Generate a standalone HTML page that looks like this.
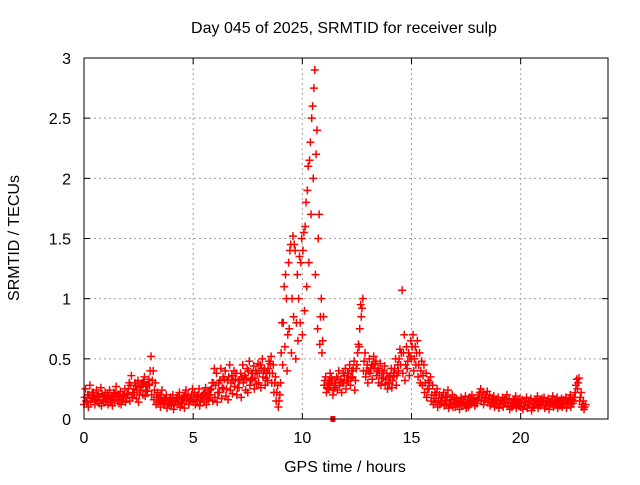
<!DOCTYPE html>
<html><head><meta charset="utf-8"><style>
body{margin:0;background:#fff}
svg{font-family:"Liberation Sans",sans-serif;font-size:16px}
</style></head><body>
<svg id="chart" width="640" height="480" viewBox="0 0 640 480" xmlns="http://www.w3.org/2000/svg">
<rect width="640" height="480" fill="#fff"/>
<text x="344" y="33" text-anchor="middle">Day 045 of 2025, SRMTID for receiver sulp</text>
<text x="345" y="472" text-anchor="middle">GPS time / hours</text>
<text transform="translate(19,238) rotate(-90)" text-anchor="middle">SRMTID / TECUs</text>
<g id="grid"></g><g id="ticks"></g><g id="marks"></g>
<rect x="84" y="58" width="524" height="361" fill="none" stroke="#000" stroke-width="1"/>
</svg>
<script>
const xTicks=[0,5,10,15,20];
const yTicks=[0,0.5,1,1.5,2,2.5,3];
const yTickLabels=["0","0.5","1","1.5","2","2.5","3"];
const tStart=0, tStep=0.1;
const seriesLow=[
.12,.15,.10,.14,.18,.12,.16,.13,.11,.15,
.14,.12,.16,.11,.15,.18,.13,.12,.17,.14,
.20,.15,.18,.22,.17,.14,.24,.20,.19,.23,
.28,.20,.16,.12,.14,.10,.15,.12,.09,.13,
.11,.08,.14,.12,.10,.13,.09,.15,.12,.16,
.14,.12,.15,.11,.18,.14,.12,.16,.20,.15,
.18,.14,.22,.17,.25,.19,.16,.24,.21,.27,
.20,.26,.18,.30,.24,.22,.28,.33,.25,.29,
.30,.26,.35,.28,.32,.38,.30,.22,.15,.10,
.30,.45,.60,.40,.75,.55,.85,.50,.65,.80,
.70,.90,1.10,1.30,1.70,2.00,1.20,.75,.62,.55,
.28,.22,.25,.30,.20,.26,.24,.28,.22,.30,
.25,.32,.28,.35,.24,.45,.60,.85,.40,.35,
.30,.38,.33,.42,.36,.30,.28,.34,.29,.25,
.30,.26,.35,.28,.40,.45,.38,.32,.42,.36,
.50,.40,.45,.35,.30,.28,.22,.18,.25,.15,
.12,.14,.10,.12,.15,.11,.13,.09,.12,.10,
.10,.12,.08,.11,.13,.09,.10,.12,.14,.11,
.13,.18,.15,.12,.17,.14,.11,.13,.10,.12,
.09,.12,.10,.14,.11,.08,.10,.13,.09,.11,
.10,.08,.11,.09,.12,.07,.10,.13,.09,.11,
.12,.09,.11,.08,.13,.10,.12,.09,.11,.10,
.12,.09,.14,.10,.13,.22,.25,.15,.10,.08];
const seriesMid=[
.18,.14,.20,.17,.22,.15,.19,.16,.21,.18,
.17,.19,.14,.18,.21,.16,.19,.15,.20,.17,
.25,.28,.22,.30,.24,.20,.27,.31,.24,.29,
.40,.32,.24,.18,.16,.20,.13,.17,.12,.16,
.15,.12,.17,.18,.14,.16,.20,.18,.15,.20,
.18,.16,.20,.15,.19,.22,.17,.20,.25,.30,
.28,.22,.32,.26,.33,.25,.35,.30,.32,.33,
.26,.32,.35,.33,.34,.40,.32,.38,.34,.38,
.38,.42,.40,.34,.42,.46,.38,.30,.22,.15,
.55,.80,1.20,.70,1.40,1.00,1.45,.80,1.00,1.30,
1.40,1.60,1.90,2.15,2.50,2.75,2.20,1.50,.85,.65,
.32,.26,.30,.34,.24,.30,.33,.30,.30,.36,
.32,.38,.34,.42,.32,.55,.75,.92,.48,.40,
.40,.42,.45,.46,.40,.38,.34,.38,.33,.30,
.36,.32,.42,.36,.50,.55,.55,.45,.48,.52,
.60,.50,.55,.45,.40,.36,.30,.25,.30,.20,
.17,.20,.15,.15,.18,.15,.18,.12,.16,.14,
.14,.13,.13,.14,.16,.12,.14,.16,.15,.13,
.16,.22,.18,.15,.20,.17,.14,.16,.13,.15,
.12,.15,.13,.17,.14,.11,.13,.16,.12,.14,
.13,.11,.14,.12,.15,.10,.13,.16,.12,.14,
.15,.12,.14,.11,.16,.13,.15,.12,.14,.13,
.15,.12,.17,.13,.15,.28,.30,.18,.12,.10];
const seriesHigh=[
.25,.20,.28,.22,.18,.24,.20,.26,.19,.22,
.20,.24,.18,.22,.27,.20,.23,.19,.25,.21,
.30,.36,.25,.28,.32,.26,.30,.35,.28,.33,
.52,.40,.30,.22,.18,.24,.16,.20,.15,.18,
.20,.15,.18,.22,.16,.19,.24,.20,.18,.25,
.22,.19,.25,.18,.21,.26,.20,.24,.30,.42,
.38,.30,.42,.35,.40,.32,.45,.36,.40,.38,
.32,.38,.45,.36,.42,.48,.38,.44,.40,.46,
.45,.50,.42,.38,.48,.52,.45,.35,.28,.20,
.80,1.10,1.00,1.30,1.45,1.52,1.40,1.20,1.35,1.50,
1.55,1.80,2.10,2.30,2.60,2.90,2.40,1.70,1.00,.85,
.35,.30,.38,.32,.28,.35,.40,.33,.38,.42,
.38,.45,.40,.48,.42,.62,.95,1.00,.55,.45,
.50,.45,.52,.48,.42,.46,.40,.44,.38,.35,
.42,.38,.50,.45,.58,1.07,.70,.60,.55,.65,
.70,.60,.65,.55,.48,.45,.38,.32,.35,.28,
.22,.25,.20,.18,.22,.19,.24,.16,.20,.18,
.17,.15,.18,.16,.19,.14,.18,.20,.17,.15,
.20,.25,.22,.18,.23,.20,.17,.19,.16,.18,
.15,.18,.16,.20,.17,.14,.16,.19,.15,.17,
.16,.14,.18,.15,.17,.13,.16,.19,.15,.17,
.18,.15,.17,.14,.19,.16,.18,.15,.17,.16,
.18,.15,.20,.16,.18,.33,.34,.22,.15,.12];
const extraTimes=[11.4];
const extraValues=[0];

const X0=84,X1=608,Y0=419,Y1=58;
function xs(t){return X0+(t/24)*(X1-X0);}
function ys(v){return Y0-(v/3)*(Y0-Y1);}
const NS="http://www.w3.org/2000/svg";
const grid=document.getElementById('grid'),ticks=document.getElementById('ticks'),marks=document.getElementById('marks');
function mk(tag,attrs,parent){const e=document.createElementNS(NS,tag);for(const k in attrs)e.setAttribute(k,attrs[k]);parent.appendChild(e);return e;}
xTicks.forEach(t=>{
  const x=xs(t);
  if(t>0){const g=mk('line',{x1:x,x2:x,y1:Y1,y2:Y0,stroke:'#a0a0a0','stroke-dasharray':'2,3'},grid);
  
  }
  mk('line',{x1:x,x2:x,y1:Y0,y2:Y0-6,stroke:'#000'},ticks);
  mk('line',{x1:x,x2:x,y1:Y1,y2:Y1+6,stroke:'#000'},ticks);
  const l=mk('text',{x:x,y:Y0+24,'text-anchor':'middle'},ticks);l.textContent=t;
  
  
});
yTicks.forEach((v,i)=>{
  const y=ys(v);
  if(v>0&&v<3){const g=mk('line',{x1:X0,x2:X1,y1:y,y2:y,stroke:'#a0a0a0','stroke-dasharray':'2,3'},grid);
  
  }
  mk('line',{x1:X0,x2:X0+6,y1:y,y2:y,stroke:'#000'},ticks);
  mk('line',{x1:X1,x2:X1-6,y1:y,y2:y,stroke:'#000'},ticks);
  const l=mk('text',{x:X0-13,y:y+6,'text-anchor':'end'},ticks);l.textContent=yTickLabels[i];
  
  
});
function plus(t,v){
  const x=xs(t),y=ys(v);
  const p=mk('path',{d:`M${x-4},${y}h8M${x},${y-4}v8`,stroke:'#f00','stroke-width':1.5,fill:'none'},marks);
  
  
}
seriesLow.forEach((v,i)=>plus(tStart+i*tStep,v));
seriesMid.forEach((v,i)=>plus(tStart+i*tStep+0.03,v));
seriesHigh.forEach((v,i)=>plus(tStart+i*tStep+0.07,v));
extraTimes.forEach((t,i)=>{
  const r=mk('rect',{x:xs(t)-2.5,y:ys(extraValues[i])-3,width:5,height:6,fill:'#f00'},marks);
  
  
});
</script>
</body></html>
